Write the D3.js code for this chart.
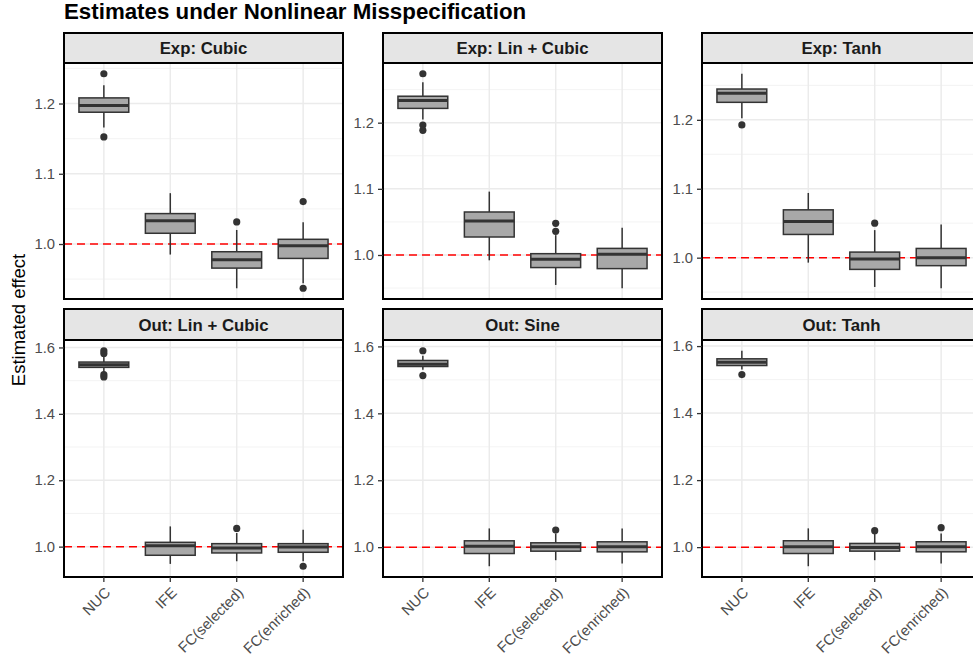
<!DOCTYPE html>
<html>
<head>
<meta charset="utf-8">
<script src="https://cdn.jsdelivr.net/npm/d3@7"></script>
<style>
  html, body { margin: 0; padding: 0; background: #fff; }
  svg { display: block; font-family: "Liberation Sans", Arial, Helvetica, sans-serif; }
</style>
</head>
<body>
<svg id="chart" width="973" height="662"></svg>
<script>
// ---------- data ----------
const categories = ["NUC", "IFE", "FC(selected)", "FC(enriched)"];
const panelTitles = ["Exp: Cubic", "Exp: Lin + Cubic", "Exp: Tanh", "Out: Lin + Cubic", "Out: Sine", "Out: Tanh"];
const topTicks = [1.0, 1.1, 1.2];
const bottomTicks = [1.0, 1.2, 1.4, 1.6];
const topMinor = [0.95, 1.05, 1.15, 1.25];
const bottomMinor = [0.9, 1.1, 1.3, 1.5];
const referenceValue = 1.0;

// box stats per category: [lower whisker, q1, median, q3, upper whisker]
const expCubicStats = [[1.166, 1.1876, 1.197, 1.208, 1.226], [0.985, 1.0153, 1.033, 1.0433, 1.0724], [0.937, 0.9657, 0.9776, 0.989, 1.020], [0.944, 0.9795, 0.9976, 1.0067, 1.031]];
const expCubicOutliers = [[1.2424, 1.1524], [], [1.0314], [1.0604, 0.937]];

const expLinCubicStats = [[1.205, 1.2216, 1.2337, 1.240, 1.2613], [0.992, 1.0272, 1.0514, 1.065, 1.0958], [0.9547, 0.981, 0.9935, 1.002, 1.030], [0.9497, 0.9794, 1.001, 1.010, 1.0413]];
const expLinCubicOutliers = [[1.274, 1.1964, 1.1884], [], [1.0479, 1.0358], []];

const expTanhStats = [[1.2023, 1.2254, 1.2384, 1.2447, 1.2669], [0.9928, 1.0337, 1.0525, 1.0694, 1.0939], [0.9575, 0.983, 0.998, 1.0081, 1.040], [0.9556, 0.9884, 1.000, 1.0134, 1.0481]];
const expTanhOutliers = [[1.1926], [], [1.050], []];

const outLinCubicStats = [[1.525, 1.540, 1.548, 1.556, 1.572], [0.948, 0.974, 1.003, 1.013, 1.061], [0.956, 0.981, 0.996, 1.009, 1.041], [0.956, 0.983, 0.999, 1.009, 1.051]];
const outLinCubicOutliers = [[1.590, 1.582, 1.518, 1.511], [], [1.055], [0.941]];

const outSineStats = [[1.530, 1.540, 1.547, 1.558, 1.572], [0.943, 0.981, 1.003, 1.019, 1.056], [0.961, 0.988, 1.001, 1.013, 1.040], [0.951, 0.986, 1.001, 1.016, 1.056]];
const outSineOutliers = [[1.587, 1.513], [], [1.051], []];

const outTanhStats = [[1.530, 1.542, 1.552, 1.562, 1.586], [0.943, 0.981, 1.001, 1.019, 1.056], [0.961, 0.988, 0.999, 1.011, 1.040], [0.951, 0.986, 1.001, 1.016, 1.041]];
const outTanhOutliers = [[1.515], [], [1.049], [1.058]];

const panelStats = [expCubicStats, expLinCubicStats, expTanhStats, outLinCubicStats, outSineStats, outTanhStats];
const panelOutliers = [expCubicOutliers, expLinCubicOutliers, expTanhOutliers, outLinCubicOutliers, outSineOutliers, outTanhOutliers];

// ---------- layout ----------
const svg = d3.select("#chart");
const colLeft = [64, 383, 702];
const panelW = 279;
const rows = [
  { stripTop: 33, top: 63, bottom: 299 },
  { stripTop: 309, top: 340, bottom: 577 }
];

svg.append("text")
  .attr("x", 64).attr("y", 18.5)
  .attr("font-size", 22.3).attr("font-weight", "bold").attr("fill", "#000")
  .text("Estimates under Nonlinear Misspecification");

svg.append("text")
  .attr("transform", "translate(25,320) rotate(-90)")
  .attr("text-anchor", "middle")
  .attr("font-size", 18.5).attr("fill", "#000")
  .text("Estimated effect");

panelTitles.forEach((title, i) => {
  const r = rows[Math.floor(i / 3)];
  const x0 = colLeft[i % 3];
  const stats = panelStats[i];
  const outs = panelOutliers[i];
  const isTop = i < 3;
  const ticks = isTop ? topTicks : bottomTicks;
  const minor = isTop ? topMinor : bottomMinor;

  const allVals = stats.flat().concat(outs.flat());
  const lo = d3.min(allVals), hi = d3.max(allVals);
  const pad = (hi - lo) * 0.05;
  const y = d3.scaleLinear().domain([lo - pad, hi + pad]).range([r.bottom, r.top]);
  // ggplot discrete axis: expansion 0.6 units each side
  const xi = d3.scaleLinear().domain([0.4, categories.length + 0.6]).range([x0, x0 + panelW]);
  const cx = (c) => xi(categories.indexOf(c) + 1);
  const unit = xi(1) - xi(0);
  const boxW = unit * 0.75;

  const g = svg.append("g");
  g.append("rect").attr("x", x0).attr("y", r.top).attr("width", panelW).attr("height", r.bottom - r.top).attr("fill", "#fff");

  const clipId = "clip" + i;
  svg.append("clipPath").attr("id", clipId).append("rect")
    .attr("x", x0).attr("y", r.top).attr("width", panelW).attr("height", r.bottom - r.top);
  const pg = g.append("g").attr("clip-path", `url(#${clipId})`);

  // minor grid
  pg.selectAll(".minor").data(minor.filter(v => y(v) > r.top && y(v) < r.bottom)).enter().append("line")
    .attr("x1", x0).attr("x2", x0 + panelW).attr("y1", d => y(d)).attr("y2", d => y(d))
    .attr("stroke", "#f0f0f0").attr("stroke-width", 0.8);
  // major grid
  pg.selectAll(".major").data(ticks).enter().append("line")
    .attr("x1", x0).attr("x2", x0 + panelW).attr("y1", d => y(d)).attr("y2", d => y(d))
    .attr("stroke", "#ebebeb").attr("stroke-width", 1.5);
  pg.selectAll(".vgrid").data(categories).enter().append("line")
    .attr("x1", d => cx(d)).attr("x2", d => cx(d)).attr("y1", r.top).attr("y2", r.bottom)
    .attr("stroke", "#ebebeb").attr("stroke-width", 1.5);

  // reference line (behind boxes)
  pg.append("line").attr("x1", x0).attr("x2", x0 + panelW).attr("y1", y(referenceValue)).attr("y2", y(referenceValue))
    .attr("stroke", "#ff0000").attr("stroke-width", 1.5).attr("stroke-dasharray", "8,5");

  // boxes
  categories.forEach((c, k) => {
    const s = stats[k];
    const xm = cx(c);
    pg.append("line").attr("x1", xm).attr("x2", xm).attr("y1", y(s[3])).attr("y2", y(s[4]))
      .attr("stroke", "#333").attr("stroke-width", 1.5);
    pg.append("line").attr("x1", xm).attr("x2", xm).attr("y1", y(s[0])).attr("y2", y(s[1]))
      .attr("stroke", "#333").attr("stroke-width", 1.5);
    pg.append("rect").attr("x", xm - boxW / 2).attr("y", y(s[3])).attr("width", boxW)
      .attr("height", y(s[1]) - y(s[3]))
      .attr("fill", "#a8a8a8").attr("stroke", "#333").attr("stroke-width", 1.5);
    pg.append("line").attr("x1", xm - boxW / 2).attr("x2", xm + boxW / 2).attr("y1", y(s[2])).attr("y2", y(s[2]))
      .attr("stroke", "#333").attr("stroke-width", 3);
    pg.selectAll(null).data(outs[k]).enter().append("circle")
      .attr("cx", xm).attr("cy", d => y(d)).attr("r", 3.6).attr("fill", "#333");
  });

  // border
  g.append("rect").attr("x", x0).attr("y", r.top).attr("width", panelW).attr("height", r.bottom - r.top)
    .attr("fill", "none").attr("stroke", "#000").attr("stroke-width", 2);

  // strip
  g.append("rect").attr("x", x0).attr("y", r.stripTop).attr("width", panelW).attr("height", r.top - r.stripTop)
    .attr("fill", "#e5e5e5").attr("stroke", "#000").attr("stroke-width", 2);
  g.append("text").attr("x", x0 + panelW / 2).attr("y", (r.stripTop + r.top) / 2 + 6)
    .attr("text-anchor", "middle").attr("font-size", 16.8).attr("font-weight", "bold").attr("fill", "#1a1a1a")
    .text(title);

  // y axis
  const yAxis = g.append("g").attr("transform", `translate(${x0},0)`)
    .call(d3.axisLeft(y).tickValues(ticks).tickFormat(d3.format(".1f")).tickSize(5).tickPadding(4));
  yAxis.select(".domain").remove();
  yAxis.selectAll(".tick line").attr("stroke", "#333").attr("stroke-width", 1.3);
  yAxis.selectAll(".tick text").attr("font-size", 14.8).attr("fill", "#4d4d4d").attr("font-family", null);

  // x axis (bottom row)
  if (!isTop) {
    const xAxisG = g.append("g");
    categories.forEach(c => {
      xAxisG.append("line").attr("x1", cx(c)).attr("x2", cx(c)).attr("y1", r.bottom).attr("y2", r.bottom + 5)
        .attr("stroke", "#333").attr("stroke-width", 1.3);
      xAxisG.append("text")
        .attr("transform", `translate(${cx(c)},${r.bottom + 9}) rotate(-45)`)
        .attr("text-anchor", "end").attr("dy", "0.72em")
        .attr("font-size", 14.8).attr("fill", "#4d4d4d")
        .text(c);
    });
  }
});
</script>
</body>
</html>
